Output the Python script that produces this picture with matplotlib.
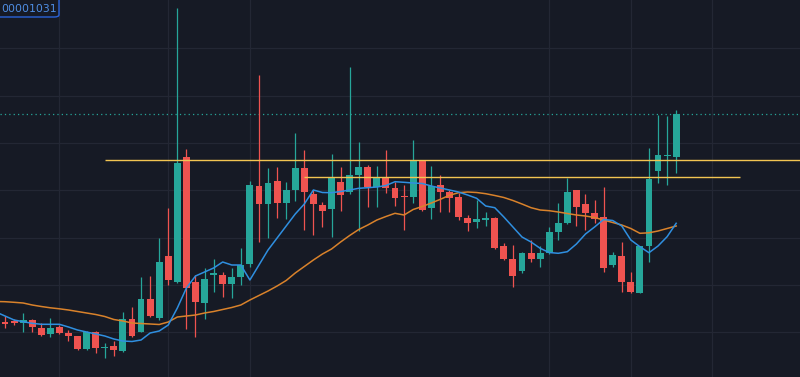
import numpy as np
import matplotlib
matplotlib.use("Agg")
import matplotlib.pyplot as plt
from matplotlib.patches import FancyBboxPatch

opens = [321.5, 320.7, 322.7, 320, 327.7, 334.3, 327.3, 332.7, 336, 349.3,
         331.7, 348.3, 345.7, 351, 319, 331.7, 299, 318.3, 256, 282.3,
         156.7, 281.7, 303.3, 275.3, 275, 284, 277.3, 264, 185.7, 204.3,
         181, 203.3, 190, 168.3, 194.3, 205, 209, 181.7, 191.7, 175,
         166.7, 186.7, 176.7, 187.7, 196, 197.3, 160.7, 207.7, 185, 192.3,
         197.3, 218.3, 221.7, 220.3, 218.3, 246, 259, 271, 252.7, 259.3,
         253.3, 231.7, 223.3, 190, 204, 212.7, 217.3, 265, 256, 281.7,
         292.7, 246, 170.7, 156, 157.3]
highs = [316, 319, 313, 319, 322.7, 317.7, 325, 330, 335.5, 331,
         330.7, 342.7, 340.7, 311.7, 306.7, 276.7, 276, 238.3, 208.3, 8.3,
         149.3, 275, 268.3, 259.3, 271.7, 268.3, 248.3, 180.7, 75, 167.7,
         166.7, 181.7, 133.3, 150, 190, 201.7, 154.3, 166.7, 66.7, 141.7,
         165, 165.7, 150, 181.7, 185, 140, 160, 166, 175, 190,
         193.3, 215, 200, 211.7, 216.7, 243.3, 245, 251.7, 240, 246,
         226.7, 203.3, 177.7, 190, 194, 200, 187.3, 251.7, 241.7, 271.7,
         245.7, 148.3, 115, 116, 110]
lows = [328, 325, 331.7, 331.7, 336, 336.7, 334, 340.7, 350, 350,
        353.3, 358.3, 356, 351.7, 337.3, 332.3, 317.3, 320, 285, 282.7,
        329.3, 336.7, 319.3, 291.7, 296.7, 298.3, 285, 267, 241.7, 238.3,
        218.3, 219.3, 200.5, 230, 235, 226.7, 236.7, 211, 194, 230.7,
        206.7, 206.7, 193.3, 205.7, 230, 202.7, 210.7, 219.3, 211.7, 211.7,
        220, 230.7, 228.3, 226, 249.3, 260, 286.7, 272.7, 261.7, 267.3,
        254, 240, 224, 226, 230, 223.3, 271.7, 266.7, 291.7, 292.7,
        293.3, 262.3, 182.7, 185, 172.7]
closes = [324, 323.3, 320, 326.7, 335, 327.7, 333.3, 336, 349.3, 331.7,
          348.3, 346.7, 350, 319, 336, 299, 315.7, 262, 280, 162.7,
          288.3, 301.7, 279, 273.3, 284.3, 277.3, 265, 185, 204.3, 183.3,
          203.3, 190, 168.3, 191.7, 204.3, 211, 177.5, 195, 175, 166.7,
          186.7, 176.7, 188.3, 198.3, 197.3, 160.7, 210, 186, 191.7, 198.3,
          216.7, 222.7, 219.3, 218.3, 248.3, 259.3, 275.7, 252.7, 259.3, 252.7,
          231.7, 223.3, 191.7, 206.7, 212.7, 219.3, 267.7, 255, 282.3, 291.7,
          246, 179, 155, 155, 114]

# moving averages, first value sits one bar left of the screen
ma_fast = [312, 316, 320, 321.7, 323.3, 324.3, 324.3, 324.3, 327, 330, 332,
           334, 336, 339, 341, 341.5, 340, 333, 331, 325, 308,
           288, 276, 272, 268, 262, 265, 265, 280, 265, 250,
           238, 226, 214, 204, 190, 192.5, 192.7, 191.5, 190, 188.3,
           187.7, 187, 185.5, 181.7, 182.3, 183, 183.5, 186, 188, 190,
           192, 195, 198.3, 206, 207.7, 217, 227, 237, 242, 248.3,
           252.5, 253.3, 251.7, 244, 234, 227, 219.5, 220.5, 226, 240,
           246.7, 252.7, 246, 236.7, 223.3]
ma_slow = [301.5, 301.7, 302.3, 303, 305, 306.5, 307.8, 308.8, 310, 311.5, 313,
           314.5, 316.5, 319.5, 321, 323, 323.5, 324, 324.5, 322, 317,
           316, 315, 313, 311.5, 309.5, 307.5, 305, 300, 295.5, 291,
           286, 280.5, 273, 266.5, 260, 254, 249, 242, 235.5, 229.5,
           225, 220, 216.5, 213.3, 215, 209.5, 206.5, 203, 199.3, 195.3,
           192.7, 192, 192.5, 193.7, 195.5, 197.5, 200.5, 204, 207.7, 210,
           210.7, 212, 213.5, 215, 216, 217.5, 220, 222.5, 225, 228.5,
           233.3, 232.8, 231, 228.5, 226]

last_price = 114
level_1 = 160      # drawn from bar 11 to the right edge
level_2 = 176.7    # drawn from bar 33 to bar 81
symbol_text = "00001031"

grid_x = [6, 18, 27, 60, 69, 78]
grid_y = [48, 95.5, 143, 190, 237.5, 285, 332]

bg = "#161a25"
up_col = "#26a69a"
down_col = "#ef5350"

fig = plt.figure(figsize=(8, 3.77), dpi=100, facecolor=bg)
ax = fig.add_axes([0, 0, 1, 1])
ax.set_facecolor(bg)

n = len(opens)
x = np.arange(n)
o = np.array(opens)
c = np.array(closes)
up = c < o
cols = np.where(up, up_col, down_col)

ax.vlines(x, highs, lows, colors=cols, linewidth=0.9, zorder=3)
body_lo = np.minimum(o, c)
body_h = np.maximum(np.abs(o - c), 0.8)
ax.bar(x, body_h, bottom=body_lo, width=0.76, color=cols, linewidth=0, zorder=4)

xm = np.arange(-1, n)
ax.plot(xm, ma_slow, color="#d9822b", linewidth=1.1, zorder=5)
ax.plot(xm, ma_fast, color="#2f8fe0", linewidth=1.1, zorder=5)

ax.hlines(level_1, 11, 100, color="#f2c552", linewidth=1.0, zorder=6)
ax.hlines(level_2, 33, 81, color="#f2c552", linewidth=1.0, zorder=6)
ax.axhline(last_price, color=up_col, linewidth=0.9, linestyle=(0, (1, 2.5)), zorder=2)

ax.set_xlim(-5 / 9.07, 795 / 9.07)
ax.set_ylim(377, 0)
ax.set_xticks(grid_x)
ax.set_yticks(grid_y)
ax.grid(True, color="#232734", linewidth=0.9)
ax.tick_params(length=0, labelbottom=False, labelleft=False)
for s in ax.spines.values():
    s.set_visible(False)

# symbol tag in the top left corner, cut by the frame
box = FancyBboxPatch((-20 / 800, 1 - 17 / 377), 79 / 800, 30 / 377,
                     boxstyle="round,pad=0,rounding_size=0.006",
                     transform=fig.transFigure, facecolor=bg,
                     edgecolor="#2a62d8", linewidth=1.0, zorder=10)
fig.patches.append(box)
fig.text(1.5 / 800, 1 - 8.5 / 377, symbol_text, color="#4f8fe6",
         fontsize=7.8, va="center", ha="left", zorder=11)

fig.savefig("out.png", dpi=100, facecolor=bg)
